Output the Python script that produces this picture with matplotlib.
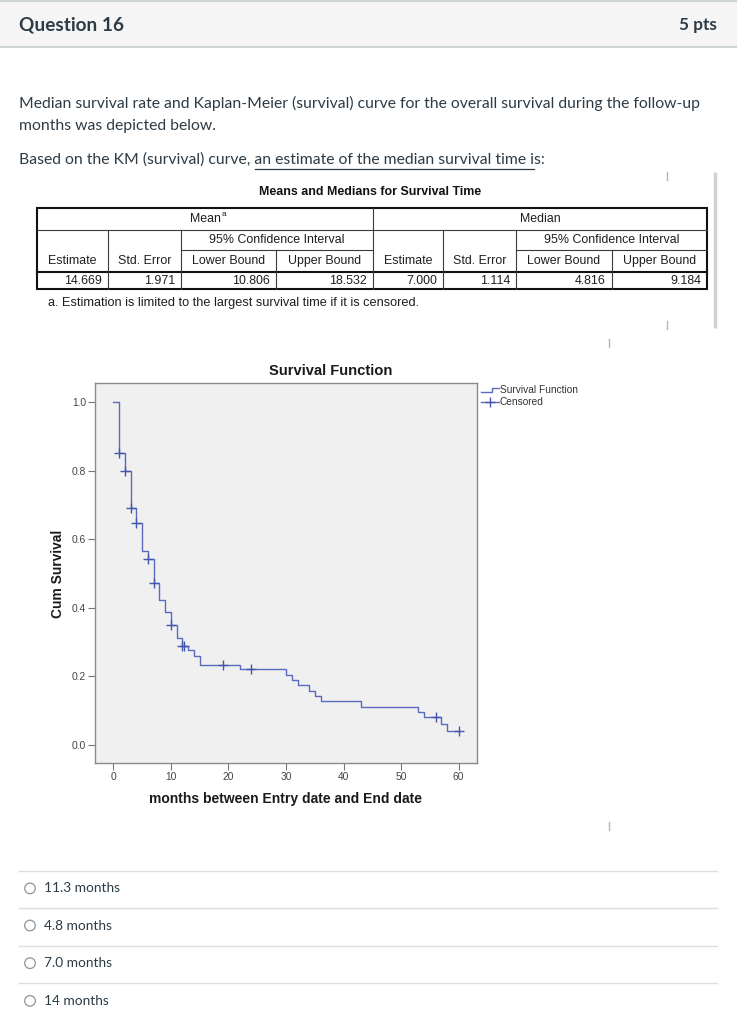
import matplotlib

matplotlib.use("Agg")

import matplotlib.pyplot as plt
from matplotlib import font_manager
from matplotlib.patches import Circle, Rectangle

# ---- chart data ----
EVENT_MONTHS = [0, 1, 2, 3, 4, 5, 6, 7, 8, 9, 10, 11, 12, 13, 14, 15, 22,
                30, 31, 32, 34, 35, 36, 43, 53, 54, 57, 58]
CUM_SURVIVAL = [1.0, 0.852, 0.800, 0.692, 0.646, 0.566, 0.541, 0.471, 0.423,
                0.388, 0.351, 0.313, 0.289, 0.276, 0.260, 0.234, 0.221, 0.205,
                0.190, 0.175, 0.158, 0.142, 0.127, 0.112, 0.096, 0.081, 0.061,
                0.042]
LAST_MONTH = 60
CENSOR_MONTHS = [1, 2, 3, 4, 6, 7, 10, 12, 12.2, 19, 24, 56, 60]
X_TICKS = [0, 10, 20, 30, 40, 50, 60]
Y_TICKS = [0.0, 0.2, 0.4, 0.6, 0.8, 1.0]

# ---- table data ----
TABLE_TITLE = "Means and Medians for Survival Time"
GROUPS = ["Mean", "Median"]
CI_LABEL = "95% Confidence Interval"
SUB_HEADERS = ["Estimate", "Std. Error", "Lower Bound", "Upper Bound"] * 2
MEAN_VALUES = ["14.669", "1.971", "10.806", "18.532"]
MEDIAN_VALUES = ["7.000", "1.114", "4.816", "9.184"]
FOOTNOTE = "a. Estimation is limited to the largest survival time if it is censored."

# ---- page text ----
QUESTION = "Question 16"
POINTS = "5 pts"
PARA_1 = "Median survival rate and Kaplan-Meier (survival) curve for the overall survival during the follow-up"
PARA_2 = "months was depicted below."
PARA_3 = "Based on the KM (survival) curve, an estimate of the median survival time is:"
UNDERLINED = "an estimate of the median survival time is:"
ANSWERS = ["11.3 months", "4.8 months", "7.0 months", "14 months"]

W, H = 737, 1024
INK = "#2d3b45"
LINE_BLUE = "#5a6bbf"


def has_font(name: str) -> bool:
    try:
        font_manager.findfont(name, fallback_to_default=False)
        return True
    except ValueError:
        return False


ARIAL = "Liberation Sans"
NARROW = "Liberation Sans Narrow" if has_font("Liberation Sans Narrow") else ARIAL

fig = plt.figure(figsize=(W / 100, H / 100), dpi=100, facecolor="white")
page = fig.add_axes([0, 0, 1, 1])
page.set_xlim(0, W)
page.set_ylim(H, 0)
page.axis("off")
renderer = fig.canvas.get_renderer()


def fit_text(ax, x, y, s, width, vertical=False, **kw):
    # scale the font so the text box spans the wanted pixel width
    t = ax.text(x, y, s, fontsize=10, **kw)
    box = t.get_window_extent(renderer=renderer)
    size = box.height if vertical else box.width
    t.set_fontsize(10 * width / size)
    return t


def text_width(s, size, **kw):
    t = page.text(0, 0, s, fontsize=size, **kw)
    w = t.get_window_extent(renderer=renderer).width
    t.remove()
    return w


# ---- header band ----
page.add_patch(Rectangle((0, 1), W, 46, facecolor="#f5f5f5", edgecolor="none"))
page.plot([0, W], [1, 1], color="#c7cdd1", lw=1.2)
page.plot([0, W], [47, 47], color="#c7cdd1", lw=1.2)
fit_text(page, 19, 25, QUESTION, 105, ha="left", va="center", family="Lato",
         weight="bold", color=INK)
fit_text(page, 717, 25, POINTS, 38, ha="right", va="center", family="Lato",
         weight="bold", color=INK)

# ---- question text ----
t1 = fit_text(page, 19, 103, PARA_1, 681, ha="left", va="center", family="Lato", color=INK)
fs = t1.get_fontsize()
page.text(19, 126, PARA_2, fontsize=fs, ha="left", va="center", family="Lato", color=INK)
t3 = page.text(19, 160, PARA_3, fontsize=fs, ha="left", va="center", family="Lato", color=INK)
full_w = t3.get_window_extent(renderer=renderer).width
u_start = 19 + full_w - text_width(UNDERLINED, fs, family="Lato")
u_end = 19 + full_w - text_width("s:", fs, family="Lato")
page.plot([u_start + 1, u_end], [168.5, 168.5], color=INK, lw=0.9)

# resize handle marks at the right
page.plot([715.5, 715.5], [172, 328], color="#d2d2d2", lw=2.5, solid_capstyle="butt")
for hx, hy in [(667, 176), (667, 325), (609, 343), (609, 826)]:
    page.plot([hx, hx], [hy - 4, hy + 4], color="#b5b5b5", lw=1)

# ---- SPSS table ----
X = [37, 108, 181, 276, 373, 443, 516, 612, 707]
Y_TOP, Y_R1, Y_R2, Y_R3, Y_BOT = 208, 229.5, 250, 271.5, 289
cell_kw = dict(family=ARIAL, fontsize=8.9, color="#1e1e1e")

fit_text(page, 370, 192, TABLE_TITLE, 220, ha="center", va="center",
         family=NARROW, weight="bold", color="#111111")

dark = dict(color="#111111", lw=1.5)
thin = dict(color="#3a3a3a", lw=0.8)
page.add_patch(Rectangle((X[0], Y_TOP), X[8] - X[0], Y_BOT - Y_TOP,
                         facecolor="none", edgecolor="#111111", lw=1.5))
page.plot([X[0], X[8]], [Y_R1, Y_R1], **thin)
page.plot([X[2], X[4]], [Y_R2, Y_R2], **thin)
page.plot([X[6], X[8]], [Y_R2, Y_R2], **thin)
page.plot([X[0], X[8]], [Y_R3, Y_R3], **dark)
page.plot([X[4], X[4]], [Y_TOP, Y_BOT], **thin)
for i in (1, 2, 5, 6):
    page.plot([X[i], X[i]], [Y_R1, Y_BOT], **thin)
for i in (3, 7):
    page.plot([X[i], X[i]], [Y_R2, Y_BOT], **thin)

g0 = page.text((X[0] + X[4]) / 2, (Y_TOP + Y_R1) / 2, GROUPS[0],
               ha="center", va="center", **cell_kw)
gb = g0.get_window_extent(renderer=renderer)
page.text((X[0] + X[4]) / 2 + gb.width / 2 + 1, Y_TOP + 6, "a", ha="left",
          va="center", family=ARIAL, fontsize=6, color="#1e1e1e")
page.text((X[4] + X[8]) / 2, (Y_TOP + Y_R1) / 2, GROUPS[1],
          ha="center", va="center", **cell_kw)
for a, b in ((2, 4), (6, 8)):
    page.text((X[a] + X[b]) / 2, (Y_R1 + Y_R2) / 2, CI_LABEL,
              ha="center", va="center", **cell_kw)
for i, lab in enumerate(SUB_HEADERS):
    page.text((X[i] + X[i + 1]) / 2, (Y_R2 + Y_R3) / 2 + 0.5, lab,
              ha="center", va="center", **cell_kw)
for i, val in enumerate(MEAN_VALUES + MEDIAN_VALUES):
    page.text(X[i + 1] - 6, (Y_R3 + Y_BOT) / 2 + 0.5, val,
              ha="right", va="center", **cell_kw)
fit_text(page, 48, 303, FOOTNOTE, 374, ha="left", va="center",
         family=ARIAL, color="#1e1e1e")

# ---- survival chart ----
ax = fig.add_axes([95 / W, 1 - 763 / H, 382 / W, 380.5 / H])
ax.set_facecolor("#f0f0f0")
for sp in ax.spines.values():
    sp.set_color("#8a8a8a")
    sp.set_linewidth(1.0)

step_x = EVENT_MONTHS + [LAST_MONTH]
step_y = CUM_SURVIVAL + [CUM_SURVIVAL[-1]]
ax.step(step_x, step_y, where="post", color=LINE_BLUE, lw=1.0)


def surv_at(t):
    s = CUM_SURVIVAL[0]
    for et, sv in zip(EVENT_MONTHS, CUM_SURVIVAL):
        if et <= t:
            s = sv
    return s


cens_y = [surv_at(t) for t in CENSOR_MONTHS]
ax.plot(CENSOR_MONTHS, cens_y, "+", color="#4456ad", ms=6.5, mew=1.0)

ax.set_xlim(-3.2, 63.2)
ax.set_ylim(-0.0525, 1.057)
ax.set_xticks(X_TICKS)
ax.set_xticklabels([str(v) for v in X_TICKS])
ax.set_yticks(Y_TICKS)
ax.set_yticklabels([f"{v:.1f}" for v in Y_TICKS])
ax.tick_params(axis="both", direction="out", length=5, width=0.8, color="#777777",
               labelsize=7.4, labelcolor="#444444", pad=1.5)
for lab in ax.get_xticklabels() + ax.get_yticklabels():
    lab.set_family(ARIAL)

fit_text(page, 331, 371, "Survival Function", 124, ha="center", va="center",
         family=ARIAL, weight="bold", color="#1a1a1a")
fit_text(page, 286, 798.5, "months between Entry date and End date", 272,
         ha="center", va="center", family=ARIAL, weight="bold", color="#1a1a1a")
fit_text(page, 58.5, 574, "Cum Survival", 88, vertical=True, rotation=90,
         ha="center", va="center", family=ARIAL, weight="bold", color="#1a1a1a")

# legend outside the plot frame
page.plot([481, 492.5, 492.5, 499], [391.5, 391.5, 388.3, 388.3], color=LINE_BLUE, lw=1.0)
page.plot([481, 499], [402.3, 402.3], color=LINE_BLUE, lw=1.0)
page.plot([490], [402.3], "+", color="#4456ad", ms=6.5, mew=1.0)
lt = fit_text(page, 500, 390.3, "Survival Function", 78, ha="left", va="center",
              family=ARIAL, color="#333333")
page.text(500, 402.3, "Censored", fontsize=lt.get_fontsize(), ha="left", va="center",
          family=ARIAL, color="#333333")

# ---- answer options ----
sep_y = [870.7, 907.8, 945.5, 983.2]
for i, ans in enumerate(ANSWERS):
    page.plot([19, 717], [sep_y[i], sep_y[i]], color="#dedede", lw=1)
    cy = sep_y[i] + 17.7
    page.add_patch(Circle((30, cy), 5.3, facecolor="white", edgecolor="#8b969e", lw=0.9))
    if i == 0:
        at = fit_text(page, 44.5, cy, ans, 76.5, ha="left", va="center", family="Lato", color=INK)
    else:
        page.text(44.5, cy, ans, fontsize=at.get_fontsize(), ha="left", va="center",
                  family="Lato", color=INK)

fig.savefig("out.png", dpi=100, facecolor="white")
